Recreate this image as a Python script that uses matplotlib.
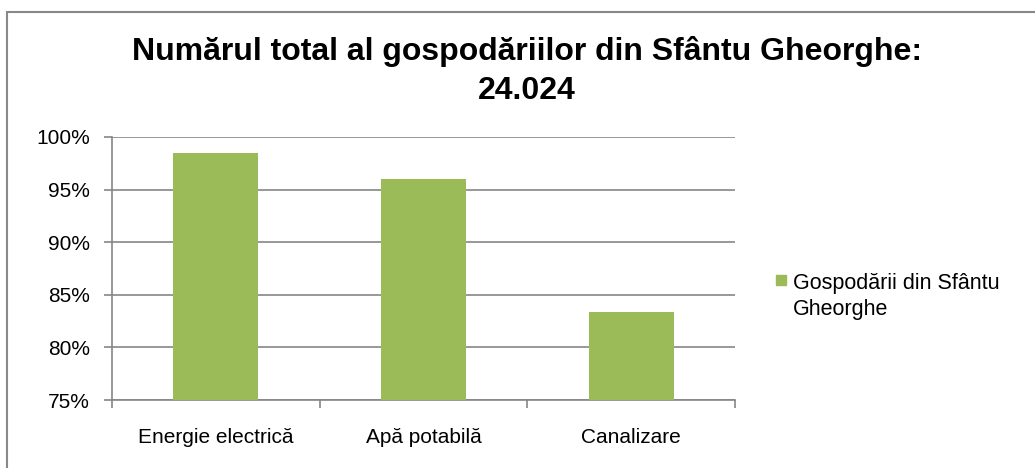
import matplotlib.pyplot as plt
from matplotlib.patches import Rectangle
import numpy as np

categories = ["Energie electrică", "Apă potabilă", "Canalizare"]
values = [98.5, 96.0, 83.4]
series_name = "Gospodării din Sfântu\nGheorghe"
title = "Numărul total al gospodăriilor din Sfântu Gheorghe:\n24.024"

plt.rcParams['font.family'] = ['Liberation Sans', 'DejaVu Sans']

fig = plt.figure(figsize=(10.35, 4.68), dpi=100)
ax = fig.add_axes([112/1035, 1-400/468, (735-112)/1035, (400-137)/468])

grid_c = '#868686'
bar_c = '#9BBB59'
x = np.arange(len(categories))
ax.bar(x, values, width=0.41, color=bar_c, zorder=3)

ax.set_ylim(75, 100)
ax.set_xlim(-0.5, 2.5)
yt = np.arange(75, 101, 5)
ax.set_yticks(yt)
ax.set_yticklabels([f"{v}%" for v in yt], fontsize=15)
ax.yaxis.grid(True, color=grid_c, linewidth=1.2, zorder=0)
ax.set_xticks(x)
ax.set_xticklabels(categories, fontsize=15)
ax.set_xticks([-0.5, 0.5, 1.5, 2.5], minor=True)
ax.tick_params(axis='x', which='major', length=0, pad=20)
ax.tick_params(axis='x', which='minor', length=6, color=grid_c, width=1.2)
ax.tick_params(axis='y', length=6, color=grid_c, width=1.2, pad=10)
for s in ['top', 'right']:
    ax.spines[s].set_visible(False)
for s in ['left', 'bottom']:
    ax.spines[s].set_color(grid_c)
    ax.spines[s].set_linewidth(1.2)

fig.text(527/1035, 1-71/468, title, ha='center', va='center', fontsize=23,
         fontweight='bold', linespacing=1.35)

# legend, drawn by hand so the swatch sits on the first line
fig.patches.append(Rectangle((776/1035, 1-285/468), 10/1035, 10/468,
                             transform=fig.transFigure, color=bar_c))
fig.text(793/1035, 1-273/468, series_name, ha='left', va='top',
         fontsize=15.5, linespacing=1.3)

fig.patches.append(Rectangle((7/1035, -0.1), 1.2, 1-12/468+0.1,
                             transform=fig.transFigure, fill=False,
                             edgecolor='#888888', linewidth=1.5))

fig.savefig('out.png', dpi=100)
